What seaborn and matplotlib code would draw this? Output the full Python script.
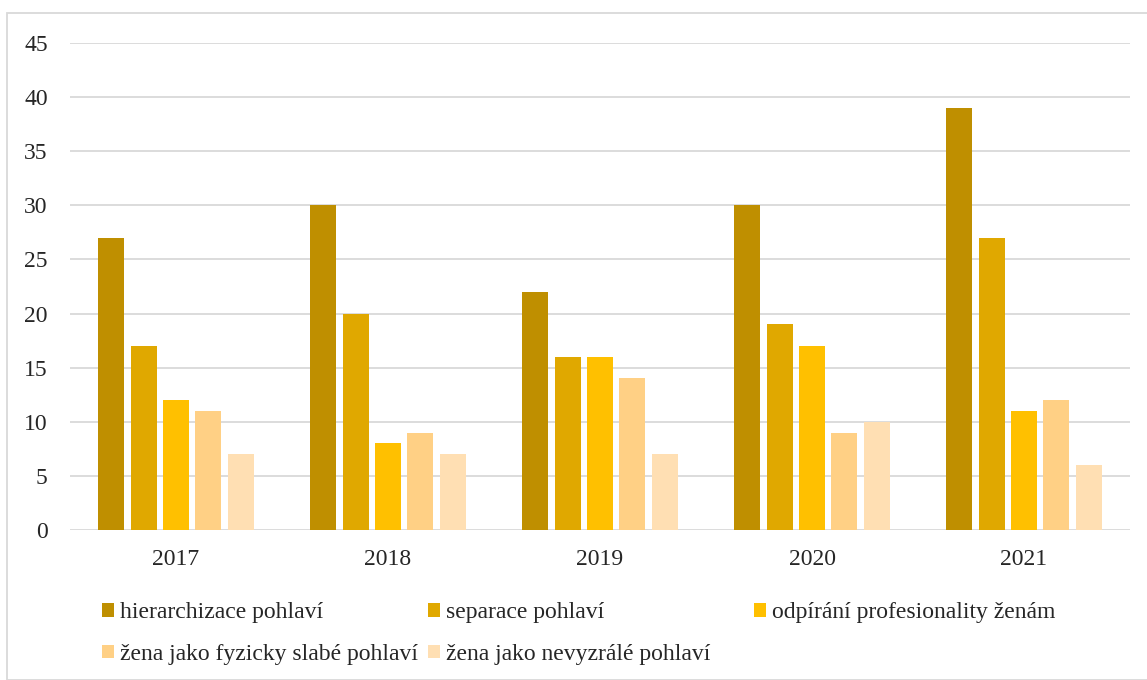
import pandas as pd
import seaborn as sns
import matplotlib.pyplot as plt
from matplotlib.patches import Rectangle

YEARS = ['2017', '2018', '2019', '2020', '2021']
HIERARCHIZACE = [27, 30, 22, 30, 39]
SEPARACE = [17, 20, 16, 19, 27]
ODPIRANI = [12, 8, 16, 17, 11]
SLABE = [11, 9, 14, 9, 12]
NEVYZRALE = [7, 7, 7, 10, 6]
SERIES = ['hierarchizace pohlaví', 'separace pohlaví',
          'odpírání profesionality ženám',
          'žena jako fyzicky slabé pohlaví', 'žena jako nevyzrálé pohlaví']
COLORS = ['#BF8F00', '#E0A800', '#FFC000', '#FFD085', '#FFDFB3']

rows = []
for name, values in zip(SERIES, [HIERARCHIZACE, SEPARACE, ODPIRANI, SLABE, NEVYZRALE]):
    for year, v in zip(YEARS, values):
        rows.append({'rok': year, 'kategorie': name, 'pocet': v})
df = pd.DataFrame(rows)

sns.set_style('white')
plt.rcParams['font.family'] = ['Liberation Serif', 'DejaVu Serif']

fig = plt.figure(figsize=(11.47, 6.8), dpi=100)
ax = fig.add_axes([70 / 1147, 1 - 530 / 680, 1060 / 1147, 487 / 680])

sns.barplot(data=df, x='rok', y='pocet', hue='kategorie', order=YEARS,
            hue_order=SERIES, palette=COLORS, width=0.765, gap=0.2,
            saturation=1, linewidth=0, errorbar=None, ax=ax)

ax.set_ylim(0, 45)
ax.set_yticks(range(0, 50, 5))
ax.set_xlabel('')
ax.set_ylabel('')
ax.grid(axis='y', color='#D9D9D9', linewidth=1.3)
ax.set_axisbelow(True)
for s in ax.spines.values():
    s.set_visible(False)
ax.tick_params(axis='y', length=0, pad=16, labelsize=17)
ax.tick_params(axis='x', length=0, pad=13.5, labelsize=17)

# legend: equal-width columns filled row by row, like the original
handles, labels = ax.get_legend_handles_labels()
ax.get_legend().remove()
columns = [[0, 3], [1, 4], [2]]
col_x = [81, 407, 733]
for idx, x in zip(columns, col_x):
    leg = fig.legend([handles[i] for i in idx], [labels[i] for i in idx],
                     loc='upper left', bbox_to_anchor=(x / 1147, 1 - 581 / 680),
                     frameon=False, fontsize=17, handlelength=0.5,
                     handleheight=0.5, handletextpad=0.25, labelspacing=0.88)

fig.patches.append(Rectangle((7 / 1147, 0), 1.0, 1 - 13 / 680,
                             transform=fig.transFigure, fill=False,
                             edgecolor='#D9D9D9', linewidth=1.3))

fig.savefig('out.png', dpi=100)
